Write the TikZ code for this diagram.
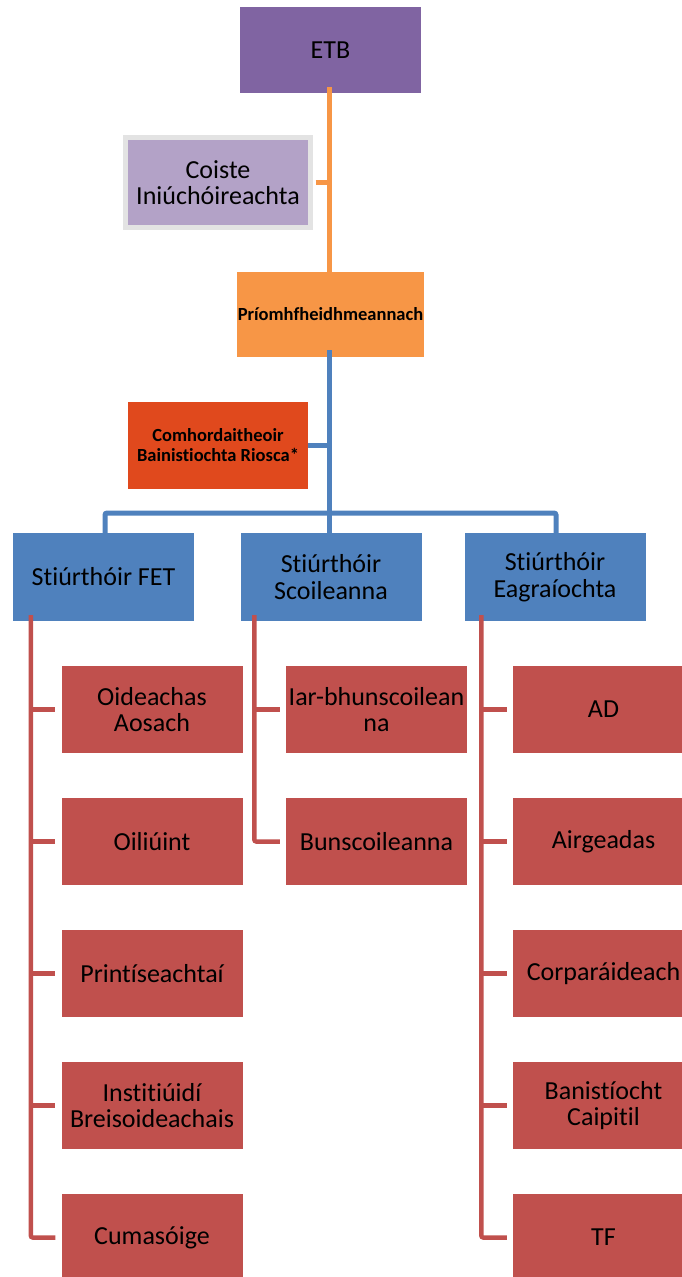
\documentclass[tikz,border=0pt]{standalone}
\usepackage{fontspec}
\setmainfont{Carlito}[Ligatures=NoCommon]
\definecolor{cpurple}{HTML}{8064A2}
\definecolor{clilac}{HTML}{B3A2C7}
\definecolor{cgrey}{HTML}{E3E3E3}
\definecolor{corange}{HTML}{F79646}
\definecolor{cflame}{HTML}{E0491D}
\definecolor{cblue}{HTML}{4F81BD}
\definecolor{cred}{HTML}{C0504D}
\begin{document}
\begin{tikzpicture}[x=1pt,y=-1pt,
  box/.style={rectangle, inner sep=1pt, align=center, text=black,
    font=\fontsize{26}{26.5}\selectfont, minimum width=181pt, minimum height=87pt},
  smallbold/.style={font=\fontsize{18.5}{20}\selectfont\bfseries},
  purplebox/.style={box, fill=cpurple},
  lilacbox/.style={box, fill=clilac, draw=cgrey, line width=5pt, minimum width=185pt, minimum height=90pt},
  orangebox/.style={box, fill=corange},
  flamebox/.style={box, fill=cflame},
  bluebox/.style={box, fill=cblue, minimum height=88pt},
  redbox/.style={box, fill=cred},
  oline/.style={draw=corange, line width=5pt},
  bline/.style={draw=cblue, line width=5pt},
  rline/.style={draw=cred, line width=4.5pt},
]
\useasboundingbox (0,0) rectangle (682,1277);
\clip (0,0) rectangle (682,1277);

% top
\node[purplebox, minimum height=86pt] (etb) at (330.5,50) {ETB};
\node[lilacbox] (coiste) at (218,182.5) {Coiste\\Iniúchóireachta};
\node[orangebox, minimum height=85pt, smallbold] (priomh) at (330.5,314.5) {Príomhfheidhmeannach};
\node[flamebox, minimum width=180pt, smallbold] (comh) at (218,445.5) {Comhordaitheoir\\Bainistiochta Riosca*};

% directors
\node[bluebox] (fet) at (103.5,577) {Stiúrthóir FET};
\node[bluebox] (scoil) at (331,577) {Stiúrthóir\\Scoileanna};
\node[bluebox] (eag) at (555,577) {Stiúrthóir\\Eagraíochta};

% FET column
\node[redbox] (f1) at (152,709.5) {Oideachas\\Aosach};
\node[redbox] (f2) at (152,841.5) {Oiliúint};
\node[redbox] (f3) at (152,973.5) {Printíseachtaí};
\node[redbox] (f4) at (152,1105.5) {Institiúidí\\Breisoideachais};
\node[redbox] (f5) at (152,1237.5) {Cumasóige};

% Scoileanna column
\node[redbox] (s1) at (376.5,709.5) {Iar-bhunscoilean\\na};
\node[redbox] (s2) at (376.5,841.5) {Bunscoileanna};

% Eagraiochta column
\node[redbox] (e1) at (603.5,709.5) {AD};
\node[redbox] (e2) at (603.5,841.5) {Airgeadas};
\node[redbox] (e3) at (603.5,973.5) {Corparáideach};
\node[redbox] (e4) at (603.5,1105.5) {Banistíocht\\Caipitil};
\node[redbox] (e5) at (603.5,1237.5) {TF};

% orange connectors
\coordinate (otop) at ([xshift=-1.5pt,yshift=6pt]etb.south);
\coordinate (obot) at ([xshift=-1.5pt,yshift=-7pt]priomh.north);
\draw[oline] (otop) -- (obot);
\draw[oline] ([xshift=2.5pt]coiste.east) -- (coiste.east -| otop);

% blue connectors
\coordinate (btop) at ([xshift=-1.5pt,yshift=7pt]priomh.south);
\coordinate (bbar) at (329,513);
\draw[bline] (btop) -- ([yshift=-6pt]btop |- scoil.north);
\draw[bline] (comh.east) -- (comh.east -| btop);
\draw[bline, rounded corners=2pt] ([xshift=1.5pt,yshift=-6pt]fet.north) |- (bbar) -| ([xshift=1pt,yshift=-6pt]eag.north);

% red connectors
\coordinate (fbus) at ([xshift=18pt,yshift=6pt]fet.south west);
\coordinate (sbus) at ([xshift=14pt,yshift=6pt]scoil.south west);
\coordinate (ebus) at ([xshift=17pt,yshift=6pt]eag.south west);
\draw[rline, rounded corners=2pt] (fbus) |- ([xshift=-6pt]f5.west);
\foreach \n in {f1,f2,f3,f4} \draw[rline] (fbus |- \n.west) -- ([xshift=-6pt]\n.west);
\draw[rline, rounded corners=2pt] (sbus) |- ([xshift=-6pt]s2.west);
\draw[rline] (sbus |- s1.west) -- ([xshift=-6pt]s1.west);
\draw[rline, rounded corners=2pt] (ebus) |- ([xshift=-6pt]e5.west);
\foreach \n in {e1,e2,e3,e4} \draw[rline] (ebus |- \n.west) -- ([xshift=-6pt]\n.west);
\end{tikzpicture}
\end{document}
